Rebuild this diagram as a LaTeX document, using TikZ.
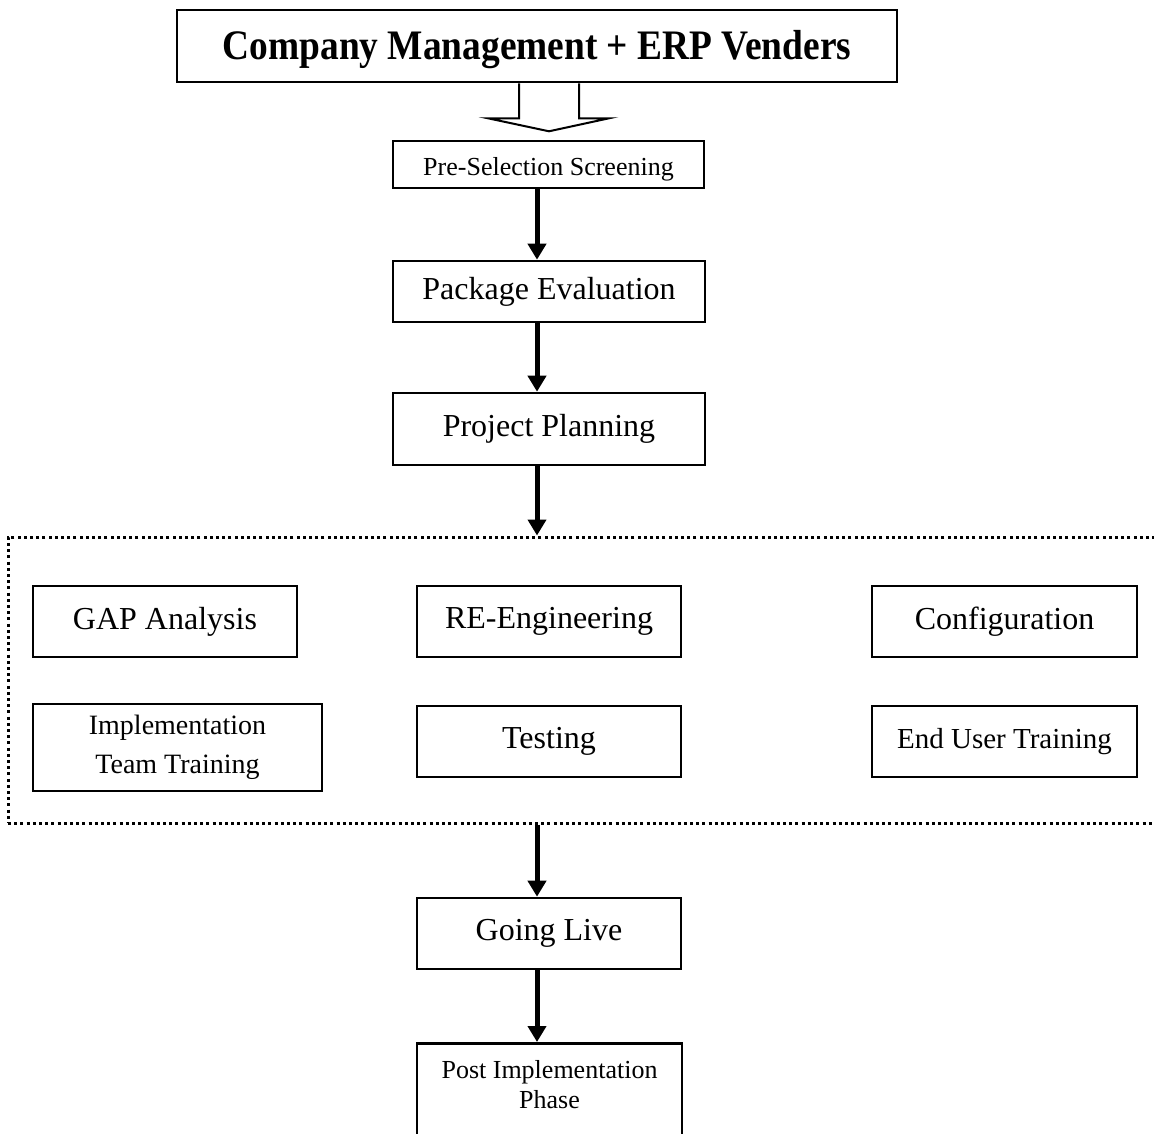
\documentclass[tikz,border=0pt]{standalone}
\usepackage{fontspec}
\setmainfont{Liberation Serif}
\newfontfamily\titlefont[FakeStretch=0.89]{Liberation Serif}
\usetikzlibrary{arrows.meta, calc, positioning}

\begin{document}
\begin{tikzpicture}[x=0.5pt, y=-0.5pt,
    box/.style={draw, line width=1.3pt, inner sep=0pt, minimum width=132pt,
      minimum height=35.5pt, font=\fontsize{16}{19}\selectfont},
    flow/.style={line width=2.5pt, -{Triangle[length=8pt, width=9pt]}},
    phase/.style={draw, line width=1.5pt, dash pattern=on 1.5pt off 1.6pt, inner sep=0pt}]
  \useasboundingbox (0,0) rectangle (1154,1133);

  \node[phase, minimum width=578pt, minimum height=143pt] (stage) at (586,680) {};

  \node[box, minimum width=360pt, minimum height=36pt, text height=18.6pt, text depth=4.6pt,
    font=\titlefont\fontsize{21}{25}\selectfont\bfseries] (title) at (537,46) {Company Management + ERP Venders};
  \node[box, minimum width=155.5pt, minimum height=23.5pt, text height=14pt, text depth=3pt,
    font=\fontsize{13}{15}\selectfont] (presel) at (548.5,164.5) {Pre-Selection Screening};
  \node[box, minimum width=156pt, minimum height=30.5pt] (pkg) at (549,291.5) {Package Evaluation};
  \node[box, minimum width=156pt, minimum height=36pt] (plan) at (549,429) {Project Planning};

  \node[box] (gap) at (165,621.5) {GAP Analysis};
  \node[box] (reeng) at (549,621.5) {RE-Engineering};
  \node[box, minimum width=132.5pt] (config) at (1004.5,621.5) {Configuration};
  \node[box, minimum width=144.5pt, minimum height=43.5pt, align=center,
    font=\fontsize{14}{19.5}\selectfont] (impl) at (177.5,747.5) {Implementation\\Team Training};
  \node[box] (test) at (549,741.5) {Testing};
  \node[box, minimum width=132.5pt, font=\fontsize{14.5}{17}\selectfont] (enduser) at (1004.5,741.5) {End User Training};

  \node[box] (live) at (549,933.5) {Going Live};
  \node[box, anchor=north, minimum width=132.5pt, inner ysep=8.6pt, text depth=40pt, align=center,
    font=\fontsize{13}{15}\selectfont] (post) at (549.5,1042) {Post Implementation\\Phase};

  \draw[line width=1pt] ($(title.south)+(-18,0)$) -- ++(0,35) -- ++(-31,0)
    -- ($(title.south)+(12,48)$) -- ($(title.south)+(72,35)$) -- ++(-30,0)
    -- ($(title.south)+(42,0)$);

  \draw[flow] (presel.south -| title.south) -- (pkg.north -| title.south);
  \draw[flow] (pkg.south -| title.south) -- (plan.north -| title.south);
  \draw[flow] (plan.south -| title.south) -- (stage.north -| title.south);
  \draw[flow] (stage.south -| title.south) -- (live.north -| title.south);
  \draw[flow] (live.south -| title.south) -- (post.north -| title.south);
\end{tikzpicture}
\end{document}
